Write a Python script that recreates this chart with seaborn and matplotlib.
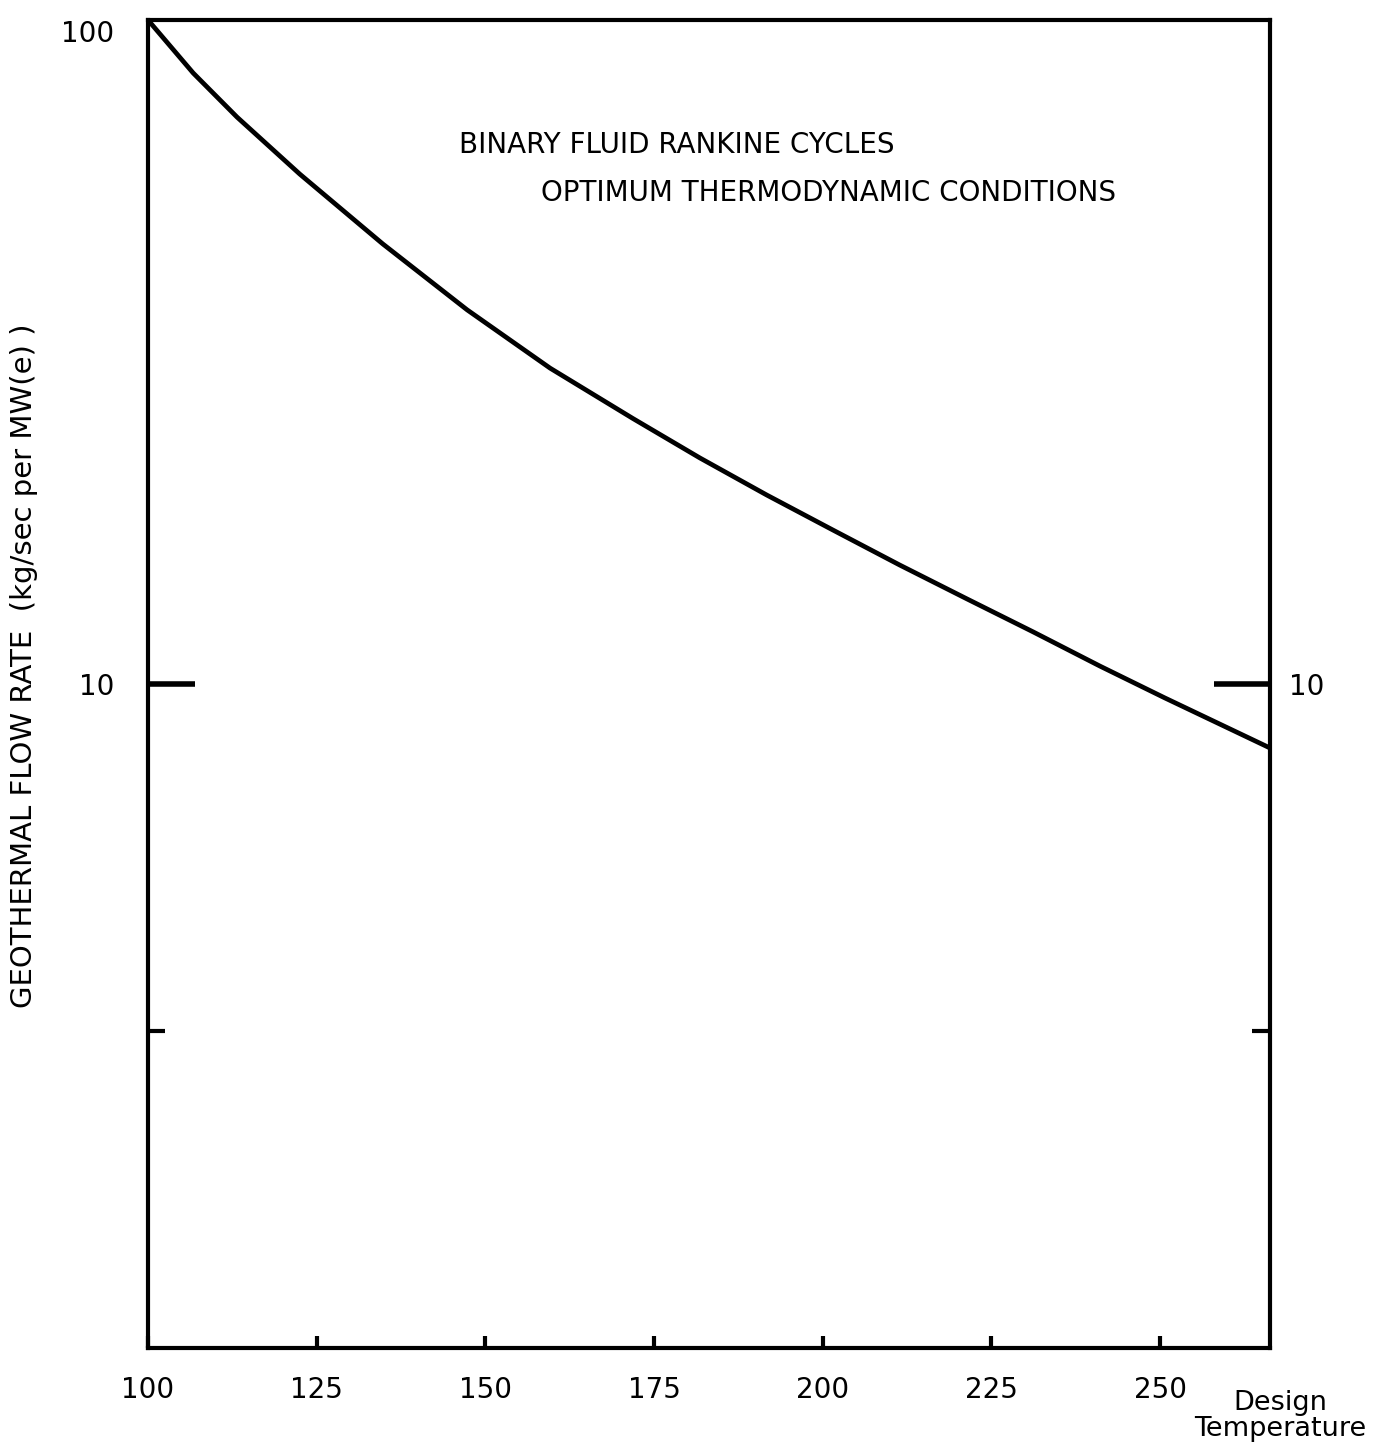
import matplotlib
matplotlib.use('Agg')
import matplotlib.pyplot as plt
import matplotlib.ticker as mticker
import seaborn as sns
import pandas as pd

# Values
design_temp = [100, 106.7, 113.2, 122.5, 134.8, 147.3, 159.6, 171.9, 181.8,
               191.7, 201.5, 211.4, 221.4, 231.2, 241.1, 250.7, 266.3]
flow_rate = [100, 83.2, 71.4, 58.6, 46.0, 36.6, 29.9, 25.1, 21.9,
             19.26, 17.06, 15.11, 13.43, 11.98, 10.64, 9.53, 8.01]

x_ticks = [100, 125, 150, 175, 200, 225, 250]

df = pd.DataFrame({'temp': design_temp, 'flow': flow_rate})

sns.set_style('white')
plt.rcParams['font.family'] = ['DejaVu Sans']
plt.rcParams['text.color'] = 'black'
plt.rcParams['axes.labelcolor'] = 'black'
plt.rcParams['xtick.color'] = 'black'
plt.rcParams['ytick.color'] = 'black'

fig = plt.figure(figsize=(13.73, 14.49), dpi=100)
ax = fig.add_axes([148 / 1373, 1 - 1348 / 1449, (1270 - 148) / 1373, (1348 - 20) / 1449])

sns.lineplot(data=df, x='temp', y='flow', ax=ax, color='black', linewidth=3.4)

ax.set_yscale('log')
ax.set_xlim(100, 266.3)
ax.set_ylim(1, 100)

for s in ax.spines.values():
    s.set_linewidth(3)
    s.set_color('black')

# x ticks
ax.set_xticks(x_ticks)
ax.set_xticklabels([str(t) for t in x_ticks])
ax.tick_params(axis='x', direction='in', length=9, width=3, labelsize=20, pad=20, bottom=True)

# y ticks on the left (the 100 sits on the top edge, label only)
ax.yaxis.set_major_locator(mticker.FixedLocator([10]))
ax.yaxis.set_major_formatter(mticker.FixedFormatter(['10']))
ax.yaxis.set_minor_locator(mticker.FixedLocator([3]))
ax.yaxis.set_minor_formatter(mticker.NullFormatter())
ax.tick_params(axis='y', which='major', direction='in', length=34, width=4, labelsize=20, pad=24, left=True)
ax.tick_params(axis='y', which='minor', direction='in', length=12, width=3, left=True)
ax.text(-0.03, 100, '100', transform=ax.get_yaxis_transform(), fontsize=20,
        ha='right', va='top')

# y ticks on the right
ax2 = ax.twinx()
ax2.set_yscale('log')
ax2.set_ylim(1, 100)
ax2.yaxis.set_major_locator(mticker.FixedLocator([10]))
ax2.yaxis.set_major_formatter(mticker.FixedFormatter(['10']))
ax2.yaxis.set_minor_locator(mticker.FixedLocator([3]))
ax2.yaxis.set_minor_formatter(mticker.NullFormatter())
ax2.tick_params(axis='y', which='major', direction='in', length=40, width=4, labelsize=20, pad=14, right=True)
ax2.tick_params(axis='y', which='minor', direction='in', length=13, width=3, right=True)
for s in ax2.spines.values():
    s.set_visible(False)

ax.set_xlabel('')
ax.set_ylabel('GEOTHERMAL FLOW RATE  (kg/sec per MW(e) )', fontsize=21)
ax.yaxis.set_label_coords(-0.098, (1348 - 666) / (1348 - 20))

fig.text(1280 / 1373, 1 - 1416 / 1449, 'Design\nTemperature', fontsize=19.5,
         ha='center', va='center', linespacing=1.05)

fig.text(459 / 1373, 1 - 145 / 1449, 'BINARY FLUID RANKINE CYCLES',
         fontsize=20, ha='left', va='center')
fig.text(541 / 1373, 1 - 193 / 1449, 'OPTIMUM THERMODYNAMIC CONDITIONS',
         fontsize=20, ha='left', va='center')

fig.savefig('out.png', dpi=100, facecolor='white')
